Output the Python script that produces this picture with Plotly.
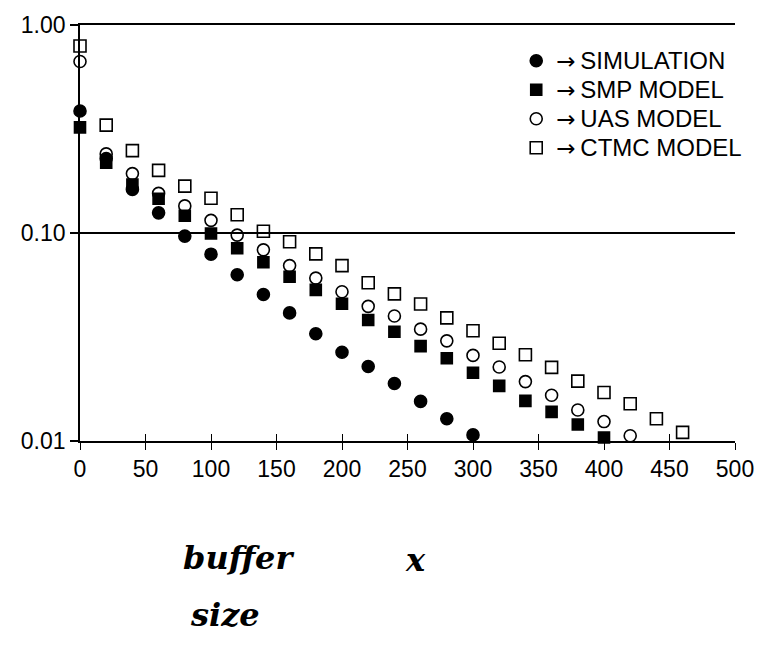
import plotly.graph_objects as go

# ---- data ----
buffer_x = [0, 20, 40, 60, 80, 100, 120, 140, 160, 180, 200, 220, 240, 260,
            280, 300, 320, 340, 360, 380, 400, 420, 440, 460]

sim_x = buffer_x[:16]
sim_y = [0.386, 0.228, 0.162, 0.125, 0.0966, 0.0791, 0.063, 0.0506, 0.0413,
         0.0328, 0.0267, 0.0228, 0.0189, 0.0155, 0.0128, 0.0107]

smp_x = buffer_x[:21]
smp_y = [0.322, 0.218, 0.171, 0.146, 0.121, 0.0995, 0.0845, 0.0723, 0.0616,
         0.0533, 0.0457, 0.0382, 0.0335, 0.0286, 0.0250, 0.0213, 0.0184,
         0.0156, 0.0138, 0.0120, 0.0104]

uas_x = buffer_x[:22]
uas_y = [0.668, 0.240, 0.193, 0.155, 0.135, 0.115, 0.0977, 0.083, 0.0697,
         0.0607, 0.0522, 0.0444, 0.0399, 0.0345, 0.0303, 0.0258, 0.0227,
         0.0193, 0.0166, 0.0141, 0.0124, 0.0106]

ctmc_x = buffer_x
ctmc_y = [0.793, 0.330, 0.249, 0.200, 0.168, 0.147, 0.1224, 0.102, 0.0908,
          0.0794, 0.0697, 0.0577, 0.0510, 0.0456, 0.0391, 0.0339, 0.0295,
          0.0260, 0.0226, 0.0194, 0.0171, 0.0151, 0.0128, 0.0110]

series_labels = ["SIMULATION", "SMP MODEL", "UAS MODEL", "CTMC MODEL"]

x_tickvals = [0, 50, 100, 150, 200, 250, 300, 350, 400, 450, 500]
y_tickvals = [0.01, 0.1, 1.0]
y_ticktext = ["0.01", "0.10", "1.00"]

FONT = "Liberation Sans, Arial, Helvetica, sans-serif"
ARROW = '<span style="font-family:DejaVu Sans;font-size:23px">\u2192</span>'

def legend_name(label):
    return ARROW + '<span style="font-size:24px">\u2009' + label + "</span>"

fig = go.Figure()

styles = [
    (sim_x, sim_y, "circle", 12),
    (smp_x, smp_y, "square", 11),
    (uas_x, uas_y, "circle-open", 12),
    (ctmc_x, ctmc_y, "square-open", 12),
]
for (xs, ys, sym, sz), label in zip(styles, series_labels):
    fig.add_trace(go.Scatter(
        x=xs, y=ys, mode="markers", name=legend_name(label), cliponaxis=False,
        marker=dict(symbol=sym, size=sz, color="black",
                    line=dict(color="black", width=1.6)),
    ))

# invisible helper trace so the overlay axis (inside ticks) is drawn
fig.add_trace(go.Scatter(x=[], y=[], xaxis="x2", showlegend=False, hoverinfo="skip"))

fig.update_layout(
    width=767, height=646,
    margin=dict(l=80, r=32, t=18, b=205),
    paper_bgcolor="white", plot_bgcolor="white",
    font=dict(family=FONT, color="black", size=23),
    showlegend=True,
    legend=dict(x=0.666, y=0.961, xanchor="left", yanchor="top",
                bgcolor="rgba(0,0,0,0)", borderwidth=0,
                font=dict(family=FONT, size=20, color="black"),
                itemwidth=30, tracegroupgap=0),
    xaxis=dict(range=[0, 500], tickvals=x_tickvals, showgrid=False, zeroline=False,
               showline=True, linecolor="black", linewidth=1.6, mirror=True,
               ticks="outside", ticklen=7, tickwidth=1.4, tickcolor="black",
               tickfont=dict(family=FONT, size=23, color="black")),
    xaxis2=dict(range=[0, 500], tickvals=x_tickvals, overlaying="x", anchor="y",
                side="bottom", showgrid=False, zeroline=False, showline=False,
                ticks="inside", ticklen=7, tickwidth=1.4, tickcolor="black",
                showticklabels=False),
    yaxis=dict(type="log", range=[-2, 0], tickvals=y_tickvals, ticktext=y_ticktext,
               showgrid=True, gridcolor="black", gridwidth=1.6, zeroline=False,
               showline=True, linecolor="black", linewidth=1.6,
               ticks="outside", ticklen=8, tickwidth=1.6, tickcolor="black",
               tickfont=dict(family=FONT, size=23, color="black")),
)

def px_to_paper(px, py):
    return (px - 80) / 655.0, (441 - py) / 423.0

hand_font = dict(family="DejaVu Serif", size=32, color="black", style="italic", weight="bold")
for text, (px, py) in [("buffer", (238, 560)), ("size", (225, 618)), ("x", (415, 562))]:
    xp, yp = px_to_paper(px, py)
    fig.add_annotation(text=text, x=xp, y=yp, xref="paper", yref="paper",
                       showarrow=False, font=hand_font, xanchor="center", yanchor="middle")

fig.write_html("out.html")
